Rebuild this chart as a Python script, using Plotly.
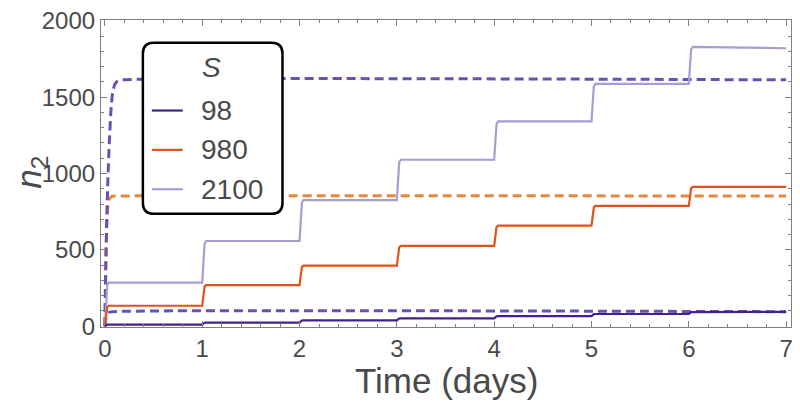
import plotly.graph_objects as go

# ---------------- data ----------------
dose_days = [0, 1, 2, 3, 4, 5, 6]
t_end = 7.0
rise = 0.04  # duration of each rise (days)

# plateau levels of the simulated n2 after each daily dose
levels_98 = [11, 24, 38, 52, 66, 80, 93]
levels_980 = [134, 269, 397, 526, 659, 788, 912]
levels_2100 = [286, 558, 826, 1090, 1341, 1587, 1829]
end_98, end_980, end_2100 = 94, 912, 1820

# dashed curves (continuous model), sample points
t_dash_hi = [0, 0.005, 0.01, 0.02, 0.03, 0.045, 0.065, 0.08, 0.1, 0.13, 0.18, 7.0]
n_dash_hi = [0, 200, 420, 720, 940, 1200, 1440, 1530, 1580, 1605, 1613, 1613]
t_dash_mid = [0, 0.005, 0.01, 0.02, 0.03, 0.045, 0.07, 0.1, 7.0]
n_dash_mid = [0, 250, 450, 680, 780, 830, 850, 852, 852]
t_dash_lo = [0, 0.01, 0.02, 0.04, 0.07, 7.0]
n_dash_lo = [0, 50, 75, 90, 95, 95]

legend_title = "S"
legend_labels = ["98", "980", "2100"]
x_ticks = [0, 1, 2, 3, 4, 5, 6, 7]
y_ticks = [0, 500, 1000, 1500, 2000]

# ---------------- styles ----------------
c_dark = "#412191"
c_orange = "#e0511b"
c_light = "#a49fd2"
c_dash_purple = "#6b4fb3"
c_dash_orange = "#e8873b"
txt = "#4a4a4a"
frame = "#808080"
FONT = "Liberation Sans, Arial, sans-serif"


def step_series(levels, end_val):
    xs, ys = [], []
    prev = 0
    for d, lv in zip(dose_days, levels):
        xs += [d, d + rise * 0.6, d + rise]
        ys += [prev, prev + (lv - prev) * 0.93, lv]
        prev = lv
    xs.append(t_end)
    ys.append(end_val)
    return xs, ys


fig = go.Figure()

for t, n, c in [(t_dash_lo, n_dash_lo, c_dash_purple),
                (t_dash_mid, n_dash_mid, c_dash_orange),
                (t_dash_hi, n_dash_hi, c_dash_purple)]:
    fig.add_trace(go.Scatter(x=t, y=n, mode="lines", showlegend=False,
                             line=dict(color=c, width=3, dash="9px,5px", shape="spline", smoothing=0.6),
                             hoverinfo="skip"))

for lv, ev, c, name in [(levels_2100, end_2100, c_light, legend_labels[2]),
                        (levels_980, end_980, c_orange, legend_labels[1]),
                        (levels_98, end_98, c_dark, legend_labels[0])]:
    xs, ys = step_series(lv, ev)
    fig.add_trace(go.Scatter(x=xs, y=ys, mode="lines", name=name, showlegend=False,
                             line=dict(color=c, width=2.2)))

# ---------------- layout ----------------
W, H = 800, 405
L, R, T, B = 101, 7, 15, 78
pw, ph = W - L - R, H - T - B


def px(xp):
    return (xp - L) / pw


def py(yp):
    return (H - B - yp) / ph


axis_common = dict(
    showline=True, linecolor=frame, linewidth=1.2, mirror="allticks",
    ticks="inside", ticklen=6, tickcolor=frame, tickwidth=1,
    showgrid=False, zeroline=False,
    tickfont=dict(family=FONT, size=24, color=txt),
)

fig.update_layout(
    width=W, height=H,
    margin=dict(l=L, r=R, t=T, b=B),
    paper_bgcolor="white", plot_bgcolor="white",
    xaxis=dict(range=[-0.04, 7.05], tickvals=x_ticks,
               minor=dict(ticks="inside", dtick=0.2, ticklen=3, tickcolor=frame),
               **axis_common),
    yaxis=dict(range=[-5, 2005], tickvals=y_ticks,
               minor=dict(ticks="inside", dtick=100, ticklen=3, tickcolor=frame),
               **axis_common),
    showlegend=False,
)

annotations = [
    dict(text="Time (days)", x=px(447), y=py(381), xref="paper", yref="paper",
         showarrow=False, font=dict(family=FONT, size=35, color=txt),
         xanchor="center", yanchor="middle"),
    dict(text="<i>n</i><sub>2</sub>", x=px(30), y=py(170), xref="paper", yref="paper",
         showarrow=False, textangle=-90, font=dict(family=FONT, size=35, color=txt),
         xanchor="center", yanchor="middle"),
    dict(text="<i>" + legend_title + "</i>", x=px(212), y=py(63), xref="paper", yref="paper",
         showarrow=False, font=dict(family=FONT, size=28, color=txt),
         xanchor="center", yanchor="middle"),
]

# legend box (rounded rectangle) and entries
bx0, bx1, by0, by1, rr = 143, 283, 38, 212, 11
shapes = []
path = (f"M {px(bx0 + rr)} {py(by0)} L {px(bx1 - rr)} {py(by0)} "
        f"Q {px(bx1)} {py(by0)} {px(bx1)} {py(by0 + rr)} "
        f"L {px(bx1)} {py(by1 - rr)} Q {px(bx1)} {py(by1)} {px(bx1 - rr)} {py(by1)} "
        f"L {px(bx0 + rr)} {py(by1)} Q {px(bx0)} {py(by1)} {px(bx0)} {py(by1 - rr)} "
        f"L {px(bx0)} {py(by0 + rr)} Q {px(bx0)} {py(by0)} {px(bx0 + rr)} {py(by0)} Z")
shapes.append(dict(type="path", path=path, xref="paper", yref="paper",
                   fillcolor="white", line=dict(color="black", width=2.5), layer="above"))

for lab, c, yy in zip(legend_labels, [c_dark, c_orange, c_light], [107, 147, 187]):
    shapes.append(dict(type="line", xref="paper", yref="paper",
                       x0=px(152), x1=px(183), y0=py(yy), y1=py(yy),
                       line=dict(color=c, width=2.2), layer="above"))
    annotations.append(dict(text=lab, x=px(199), y=py(yy), xref="paper", yref="paper",
                            showarrow=False, font=dict(family=FONT, size=28, color=txt),
                            xanchor="left", yanchor="middle"))

fig.update_layout(shapes=shapes, annotations=annotations)

fig.write_html("out.html", config={"displayModeBar": False},
               post_script="document.body.style.margin='0';document.body.style.padding='0';")
